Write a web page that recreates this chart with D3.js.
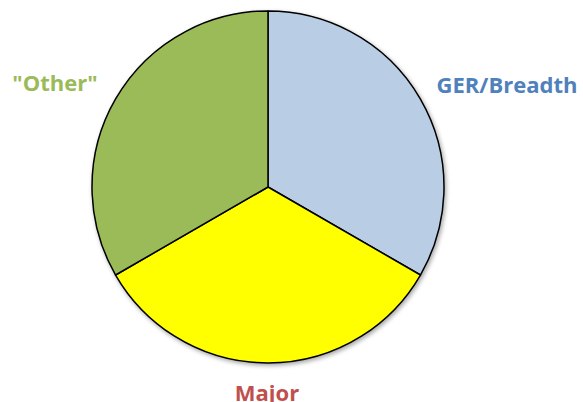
<!DOCTYPE html>
<html>
<head>
<meta charset="utf-8">
<script src="https://cdn.jsdelivr.net/npm/d3@7"></script>
<style>
  body { margin: 0; background: #fff; }
  svg { display: block; }
</style>
</head>
<body>
<svg id="chart"></svg>
<script>
// data
const categories = ['GER/Breadth', 'Major', '"Other"']
const values = [1, 1, 1]
const fills = ['#b9cde5', '#ffff00', '#9bbb59']
const labelColors = ['#4f81bd', '#c0504d', '#9bbb59']

const width = 583, height = 402
const cx = 268, cy = 187, r = 176

// label anchor points (hand placed like in the original)
const labelPos = [[507, 93], [267, 401], [55, 91]]

const svg = d3.select('#chart').attr('width', width).attr('height', height)

const defs = svg.append('defs')
const shadow = defs.append('filter').attr('id', 'shadow')
    .attr('x', '-10%').attr('y', '-10%').attr('width', '120%').attr('height', '120%')
shadow.append('feDropShadow')
    .attr('dx', 1.5).attr('dy', 2).attr('stdDeviation', 2)
    .attr('flood-color', '#000').attr('flood-opacity', 0.35)

const pie = d3.pie().sort(null).value(d => d)
const arc = d3.arc().innerRadius(0).outerRadius(r)

const g = svg.append('g').attr('transform', `translate(${cx},${cy})`)

g.append('g').attr('filter', 'url(#shadow)')
    .selectAll('path')
    .data(pie(values))
    .enter().append('path')
    .attr('d', arc)
    .attr('fill', (d, i) => fills[i])
    .attr('stroke', '#000')
    .attr('stroke-width', 1.5)
    .attr('stroke-linejoin', 'round')

svg.append('g')
    .selectAll('text')
    .data(categories)
    .enter().append('text')
    .attr('x', (d, i) => labelPos[i][0])
    .attr('y', (d, i) => labelPos[i][1])
    .attr('text-anchor', 'middle')
    .attr('font-family', 'Open Sans, Liberation Sans, sans-serif')
    .attr('font-weight', 'bold')
    .attr('font-size', 22)
    .attr('fill', (d, i) => labelColors[i])
    .text(d => d)
</script>
</body>
</html>
